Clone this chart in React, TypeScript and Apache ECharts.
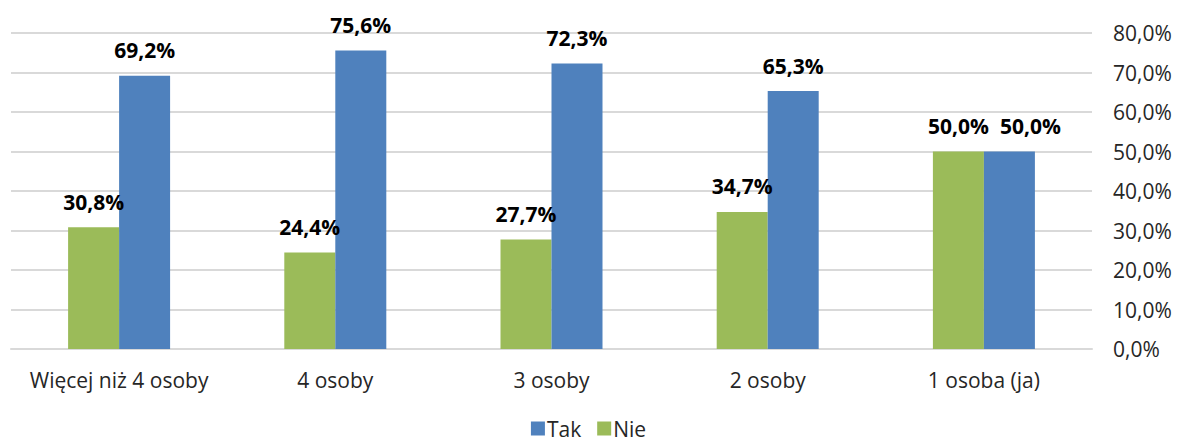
import React, { useEffect, useRef } from "react";
import * as echarts from "echarts";

const categories = ["Więcej niż 4 osoby", "4 osoby", "3 osoby", "2 osoby", "1 osoba (ja)"];
const nieValues = [30.8, 24.4, 27.7, 34.7, 50.0];
const takValues = [69.2, 75.6, 72.3, 65.3, 50.0];
const seriesNames = ["Nie", "Tak"];

const fmt = (v: number) => v.toFixed(1).replace(".", ",") + "%";
const FONT = "'Open Sans', sans-serif";

export default function App() {
  const ref = useRef<HTMLDivElement>(null);
  useEffect(() => {
    if (!ref.current) return;
    const chart = echarts.init(ref.current, null, { renderer: "svg" });
    const labelCfg = {
      show: true,
      position: "top" as const,
      distance: 15,
      fontFamily: FONT,
      fontSize: 21,
      fontWeight: "bold" as const,
      color: "#000",
      formatter: (p: any) => fmt(p.value),
    };
    // last "Tak" label is nudged right, as in the original, to avoid overlapping its neighbour
    const takData = takValues.map((v, i) =>
      i === takValues.length - 1 && v === nieValues[i]
        ? { value: v, label: { offset: [21, 0] } }
        : v
    );
    chart.setOption({
      animation: false,
      textStyle: { fontFamily: FONT },
      grid: { left: 11, right: 85, top: 33, bottom: 92, containLabel: false },
      legend: {
        top: 418,
        left: "center",
        data: ["Tak", "Nie"],
        icon: "rect",
        itemWidth: 14,
        itemHeight: 14,
        itemGap: 16,
        padding: 0,
        textStyle: { fontFamily: FONT, fontSize: 21, color: "#262626", padding: [0, 0, 0, -3] },
      },
      xAxis: {
        type: "category",
        data: categories,
        axisTick: { show: false },
        axisLine: { lineStyle: { color: "#d9d9d9", width: 2 } },
        axisLabel: { fontFamily: FONT, fontSize: 21, color: "#262626", margin: 20, interval: 0 },
      },
      yAxis: {
        type: "value",
        position: "right",
        min: 0,
        max: 80,
        interval: 10,
        axisLine: { show: false },
        axisTick: { show: false },
        splitLine: { lineStyle: { color: "#d9d9d9", width: 2 } },
        axisLabel: { fontFamily: FONT, fontSize: 21, color: "#262626", margin: 21, formatter: (v: number) => fmt(v) },
      },
      series: [
        {
          name: seriesNames[0],
          type: "bar",
          data: nieValues,
          itemStyle: { color: "#9bbb59" },
          barWidth: 51,
          barGap: "0%",
          label: labelCfg,
        },
        {
          name: seriesNames[1],
          type: "bar",
          data: takData,
          itemStyle: { color: "#4f81bd" },
          barWidth: 51,
          barGap: "0%",
          label: labelCfg,
        },
      ],
    });
    return () => chart.dispose();
  }, []);
  return <div ref={ref} style={{ position: "absolute", left: 0, top: 0, width: 1177, height: 441 }} />;
}
